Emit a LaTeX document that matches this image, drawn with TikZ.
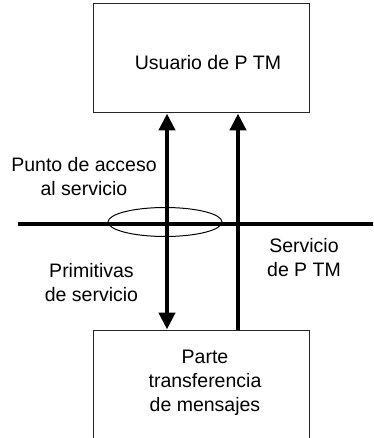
\documentclass[tikz,border=0pt]{standalone}
\usepackage{fontspec}
\setmainfont{Liberation Sans}
\usetikzlibrary{arrows.meta,shapes.geometric}
\tikzset{
  caja/.style={draw=black!85, line width=1pt, minimum width=216pt, inner sep=0pt},
  etiq/.style={align=center, inner sep=0pt, font=\fontsize{19.5}{24}\selectfont},
  flecha/.style={line width=4.5pt, -{Triangle[length=17pt,width=16pt]}},
  flechadoble/.style={line width=4.5pt, {Triangle[length=17pt,width=16pt]}-{Triangle[length=17pt,width=16pt]}},
}

\begin{document}
\begin{tikzpicture}[x=1pt,y=-1pt]
  %%%%% START %%%%%
  \useasboundingbox (0,0) rectangle (373,438);
  \clip (0,0) rectangle (373,438);

  % cajas
  \node[caja, minimum height=109pt] (usuario) at (201,58.5) {};
  \node[etiq] (usuarioTxt) at (208,63) {Usuario de P TM};

  \node[caja, minimum height=130pt] (parte) at (201,395) {};
  \node[etiq] (parteTxt) at (205,383) {Parte\\transferencia\\de mensajes};

  % frontera del servicio
  \coordinate (lineaIzq) at (18,223.5);
  \coordinate (lineaDer) at (373,223.5);
  \draw[line width=4pt] (lineaIzq) -- (lineaDer);
  \node[draw, ellipse, line width=1pt, minimum width=114pt, minimum height=29pt, inner sep=0pt] (sap) at (165,222) {};

  % flechas
  \coordinate (primX) at (167,0);
  \coordinate (servX) at (238,0);
  \draw[flechadoble] (usuario.south -| primX) -- (parte.north -| primX);
  \draw[flecha] (parte.north -| servX) -- (usuario.south -| servX);

  % textos
  \node[etiq] (puntoTxt) at (84,177) {Punto de acceso\\al servicio};
  \node[etiq] (primTxt) at (91.5,283) {Primitivas\\de servicio};
  \node[etiq] (servTxt) at (304,258) {Servicio\\de P TM};
  %%%%% END %%%%%
\end{tikzpicture}
\end{document}
